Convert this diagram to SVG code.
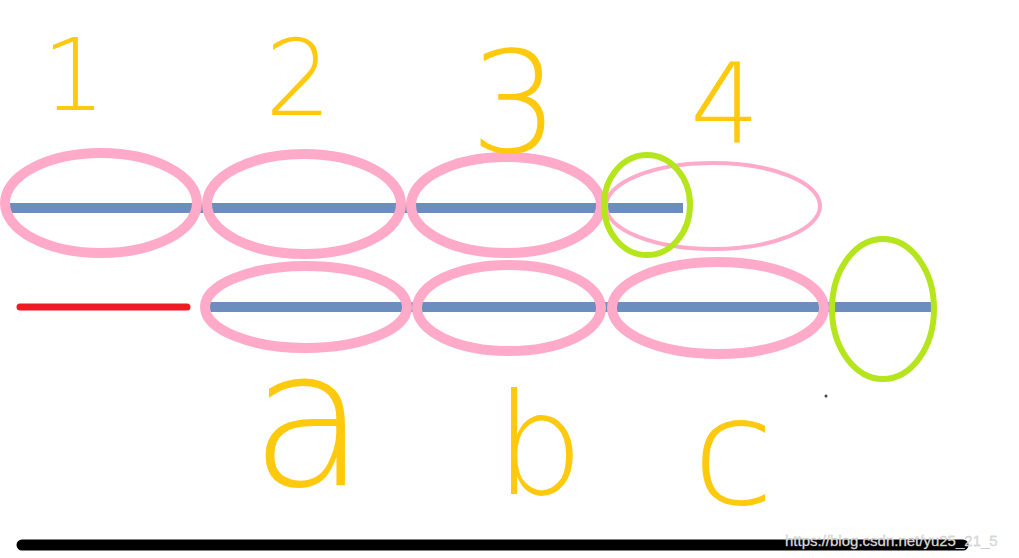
<svg xmlns="http://www.w3.org/2000/svg" width="1019" height="558" viewBox="0 0 1019 558">
<style>
.blue{stroke:#6C8EBF;stroke-width:10;fill:none}
.pink{stroke:#FFAAC9;stroke-width:10;fill:none}
.pinkthin{stroke:#FFAAC9;stroke-width:4;fill:none}
.green{stroke:#B5E61D;stroke-width:6;fill:none}
.lbl{fill:#FFC90E;font-family:"DejaVu Sans",sans-serif;font-weight:200}
</style>
<rect width="1019" height="558" fill="#fff"/>
<g id="lines">
<line class="blue" x1="5" y1="208" x2="683" y2="208"/>
<line class="blue" x1="208" y1="307" x2="935" y2="307"/>
<line x1="20" y1="307" x2="187" y2="307" stroke="#ED1C24" stroke-width="7" stroke-linecap="round"/>
<line x1="22" y1="545" x2="963" y2="545" stroke="#000" stroke-width="11" stroke-linecap="round"/>
</g>
<g id="top-row">
<ellipse class="pink" cx="101" cy="203" rx="96" ry="50"/>
<ellipse class="pink" cx="304" cy="204" rx="97" ry="50"/>
<ellipse class="pink" cx="506" cy="205" rx="95" ry="48"/>
<ellipse class="pinkthin" cx="713" cy="206" rx="107" ry="43"/>
<ellipse class="green" cx="647" cy="205" rx="43" ry="50"/>
</g>
<g id="bottom-row">
<ellipse class="pink" cx="306" cy="307" rx="101" ry="41"/>
<ellipse class="pink" cx="509" cy="308" rx="92" ry="43"/>
<ellipse class="pink" cx="718" cy="308" rx="106" ry="46"/>
<ellipse class="green" cx="883" cy="309" rx="51" ry="70"/>
</g>
<g id="labels">
<text class="lbl" x="42" y="110" font-size="100">1</text>
<text class="lbl" x="265" y="115" font-size="105">2</text>
<text class="lbl" x="470" y="152" font-size="140">3</text>
<text class="lbl" x="690" y="142" font-size="110">4</text>
<text class="lbl" x="250" y="485" font-size="190">a</text>
<text class="lbl" x="495" y="494" font-size="140">b</text>
<text class="lbl" x="692" y="504" font-size="150">c</text>
</g>
<circle cx="826" cy="396" r="1.5" fill="#444"/>
<text x="785" y="546" font-family="Liberation Sans, sans-serif" font-size="15" fill="#e6e6e6" stroke="#bbb" stroke-width="0.3">https://blog.csdn.net/yu25_21_5</text>
</svg>
